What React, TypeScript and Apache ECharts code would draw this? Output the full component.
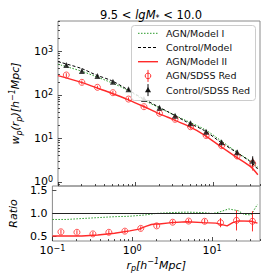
import React, { useEffect, useRef } from "react";
import * as echarts from "echarts";

// ---------------- data ----------------
const titleText = "9.5 < {it|lgM}{sub|*} < 10.0";
const legendLabels = ["AGN/Model I", "Control/Model", "AGN/Model II", "AGN/SDSS Red", "Control/SDSS Red"];

// measured points (h^-1 Mpc)
const rp = [0.128, 0.203, 0.322, 0.51, 0.81, 1.28, 2.03, 3.22, 5.1, 8.1, 12.8, 20.3, 32.2];
const wpAgnSdss = [286, 194, 149, 112, 80, 53.4, 37.7, 27.4, 18.5, 11.6, 6.77, 3.92, 2.66];
const wpCtrlSdss = [486, 354, 272, 201, 134, 80, 50.7, 33.2, 22.2, 14.2, 8.1, 4.77, 3.06];
const errAgnSdss = [0.1, 0.1, 0.09, 0.09, 0.09, 0.09, 0.09, 0.1, 0.1, 0.12, 0.13, 0.15, 0.32];
const errCtrlSdss = [0.07, 0.07, 0.07, 0.07, 0.07, 0.07, 0.07, 0.08, 0.08, 0.09, 0.1, 0.12, 0.26];

// model curves
const modelX = [0.1, 0.2, 0.31, 0.49, 0.78, 1.23, 1.95, 2.6, 4.5, 7.7, 12.2, 19.5, 30.5, 37.5];
const wpAgnModel1 = [505, 352, 262, 190, 129, 79, 51.7, 40.5, 25.4, 16.1, 9.16, 5.0, 2.95, 2.15];
const wpCtrlModel = [580, 405, 286, 212, 134, 83.4, 53.4, 41, 24, 15, 8.36, 4.85, 2.85, 1.95];
const wpAgnModel2 = [276, 194, 146, 109, 79, 55.4, 37.7, 30.5, 20, 11.9, 6.66, 3.75, 2.2, 1.45];

// ratio panel
const ratioSdss = [0.6, 0.59, 0.555, 0.59, 0.615, 0.675, 0.73, 0.81, 0.835, 0.83, 0.8, 0.85, 0.83];
const ratioSdssErr = [0.045, 0.045, 0.045, 0.045, 0.045, 0.045, 0.045, 0.045, 0.045, 0.05, 0.1, 0.22, 0.22];
const ratioLineX = [0.1, 0.234, 0.37, 0.6, 0.93, 1.22, 1.48, 1.74, 1.95, 2.19, 3.1, 4.84, 7.76, 11.2, 15.5, 18.2, 21.4, 30.9, 37.2];
const ratioModel2 = [0.51, 0.51, 0.53, 0.57, 0.62, 0.66, 0.72, 0.76, 0.77, 0.77, 0.8, 0.82, 0.8, 0.79, 0.73, 0.8, 0.84, 0.83, 0.79];
const ratioGreenX = [0.1, 0.15, 0.234, 0.37, 0.6, 0.93, 1.48, 1.95, 3.1, 4.84, 7.76, 10.2, 12.3, 16.2, 21.4, 25.1, 30.9, 37.2];
const ratioModel1 = [0.87, 0.87, 0.89, 0.91, 0.93, 0.94, 0.97, 1.0, 1.02, 1.03, 1.02, 1.0, 1.03, 1.1, 1.06, 0.98, 0.97, 1.2];

const xTickMajor = [-1, 0, 1];
const yTickMajor = [0, 1, 2, 3];
const ratioTicks = [0.5, 1.0, 1.5];

// axis ranges
const X_MIN = 0.1;
const X_MAX = 40;
const Y_MIN = 0.8;
const Y_MAX = 5000;
const R_MIN = 0.4;
const R_MAX = 1.6;

// ---------------- helpers ----------------
const L = Math.log10;
const FONT = "DejaVu Sans";
const RED = "#ff2a2a";
const GREEN = "#2a9a2a";

function minorTicks(lo: number, hi: number) {
  const out: number[] = [];
  for (let d = Math.floor(lo) - 1; d <= Math.ceil(hi); d++) {
    for (let k = 2; k <= 9; k++) {
      const v = d + Math.log10(k);
      if (v >= lo - 1e-9 && v <= hi + 1e-9) out.push(v);
    }
  }
  return out;
}

const toLog = (xs: number[], ys: number[]) => xs.map((x, i) => [L(x), L(ys[i])]);

const supRich = {
  sup: { fontSize: 8, verticalAlign: "top", lineHeight: 7, fontFamily: FONT, color: "#000" },
  sub: { fontSize: 8, verticalAlign: "bottom", lineHeight: 7, fontFamily: FONT, color: "#000" },
};
const itRich = {
  sup: { fontSize: 8, verticalAlign: "top", lineHeight: 8, fontFamily: FONT, fontStyle: "italic", color: "#000" },
  sub: { fontSize: 8, verticalAlign: "bottom", lineHeight: 8, fontFamily: FONT, fontStyle: "italic", color: "#000" },
};

function errBar(xi: number, yi: number, data: number[][], color: string) {
  return {
    type: "custom",
    xAxisIndex: xi,
    yAxisIndex: yi,
    data,
    encode: { x: 0, y: [1, 2] },
    z: 4,
    renderItem: (_p: any, api: any) => {
      const a = api.coord([api.value(0), api.value(1)]);
      const b = api.coord([api.value(0), api.value(2)]);
      return {
        type: "line",
        shape: { x1: a[0], y1: a[1], x2: b[0], y2: b[1] },
        style: { stroke: color, lineWidth: 1 },
      };
    },
  };
}

function baseAxis(extra: any) {
  return {
    type: "value",
    splitLine: { show: false },
    axisLine: { show: false, onZero: false },
    ...extra,
  };
}

function buildOption() {
  const xmin = L(X_MIN), xmax = L(X_MAX);
  const ymin = L(Y_MIN), ymax = L(Y_MAX);
  const tickStyle = { color: "#222", width: 0.8 };

  const xAxes = [
    baseAxis({ gridIndex: 0, min: xmin, max: xmax, position: "bottom",
      axisTick: { show: true, inside: true, length: 4, customValues: xTickMajor, lineStyle: tickStyle },
      axisLabel: { show: false } }),
    baseAxis({ gridIndex: 0, min: xmin, max: xmax, position: "bottom",
      axisTick: { show: true, inside: true, length: 2, customValues: minorTicks(xmin, xmax), lineStyle: tickStyle },
      axisLabel: { show: false } }),
    baseAxis({ gridIndex: 1, min: xmin, max: xmax, position: "bottom",
      axisTick: { show: true, inside: true, length: 4, customValues: xTickMajor, lineStyle: tickStyle },
      axisLabel: { show: true, customValues: xTickMajor, margin: 3,
        formatter: (v: number) => "10{sup|" + String(Math.round(v)).replace("-", "\u2212") + "}",
        fontSize: 11, fontFamily: FONT, color: "#000", lineHeight: 13, rich: supRich },
      name: "r{sub|p}[h{sup|\u22121}Mpc]", nameLocation: "middle", nameGap: 11,
      nameTextStyle: { fontSize: 11, fontStyle: "italic", fontFamily: FONT, color: "#000", lineHeight: 15, rich: itRich } }),
    baseAxis({ gridIndex: 1, min: xmin, max: xmax, position: "bottom",
      axisTick: { show: true, inside: true, length: 2, customValues: minorTicks(xmin, xmax), lineStyle: tickStyle },
      axisLabel: { show: false } }),
  ];

  const yAxes = [
    baseAxis({ gridIndex: 0, min: ymin, max: ymax, position: "left",
      axisTick: { show: true, inside: true, length: 4, customValues: yTickMajor, lineStyle: tickStyle },
      axisLabel: { show: true, customValues: yTickMajor, margin: 5,
        formatter: (v: number) => "10{sup|" + Math.round(v) + "}",
        fontSize: 11, fontFamily: FONT, color: "#000", lineHeight: 12, rich: supRich },
      name: "w{sub|p}(r{sub|p})[h{sup|\u22121}Mpc]", nameLocation: "middle", nameGap: 23,
      nameTextStyle: { fontSize: 11, fontStyle: "italic", fontFamily: FONT, color: "#000", lineHeight: 15, rich: itRich } }),
    baseAxis({ gridIndex: 0, min: ymin, max: ymax, position: "left",
      axisTick: { show: true, inside: true, length: 2, customValues: minorTicks(ymin, ymax), lineStyle: tickStyle },
      axisLabel: { show: false } }),
    baseAxis({ gridIndex: 1, min: R_MIN, max: R_MAX, position: "left",
      axisTick: { show: true, inside: true, length: 4, customValues: ratioTicks, lineStyle: tickStyle },
      axisLabel: { show: true, customValues: ratioTicks, margin: 5,
        formatter: (v: number) => v.toFixed(1),
        fontSize: 11, fontFamily: FONT, color: "#000", lineHeight: 11 },
      name: "Ratio", nameLocation: "middle", nameGap: 24,
      nameTextStyle: { fontSize: 11, fontStyle: "italic", fontFamily: FONT, color: "#000" } }),
  ];

  const redErrData = rp.map((x, i) => [L(x), L(wpAgnSdss[i] * (1 - errAgnSdss[i])), L(wpAgnSdss[i] * (1 + errAgnSdss[i]))]);
  const blkErrData = rp.map((x, i) => [L(x), L(wpCtrlSdss[i] * (1 - errCtrlSdss[i])), L(wpCtrlSdss[i] * (1 + errCtrlSdss[i]))]);
  const ratioErrData = rp.map((x, i) => [L(x), ratioSdss[i] - ratioSdssErr[i], ratioSdss[i] + ratioSdssErr[i]]);

  const series: any[] = [
    { type: "line", xAxisIndex: 0, yAxisIndex: 0, data: toLog(modelX, wpAgnModel1), symbol: "none", smooth: 0.3,
      lineStyle: { color: GREEN, width: 1, type: [1.5, 1.5] }, z: 3 },
    { type: "line", xAxisIndex: 0, yAxisIndex: 0, data: toLog(modelX, wpCtrlModel), symbol: "none", smooth: 0.3,
      lineStyle: { color: "#000", width: 1, type: [3, 2] }, z: 3 },
    { type: "line", xAxisIndex: 0, yAxisIndex: 0, data: toLog(modelX, wpAgnModel2), symbol: "none", smooth: 0.3,
      lineStyle: { color: RED, width: 1.4 }, z: 3 },
    errBar(0, 0, redErrData, RED),
    { type: "scatter", xAxisIndex: 0, yAxisIndex: 0, data: toLog(rp, wpAgnSdss), symbol: "circle", symbolSize: 6,
      itemStyle: { color: "rgba(0,0,0,0)", borderColor: RED, borderWidth: 1 }, z: 5 },
    errBar(0, 0, blkErrData, "#111"),
    { type: "scatter", xAxisIndex: 0, yAxisIndex: 0, data: toLog(rp, wpCtrlSdss), symbol: "triangle", symbolSize: 6,
      itemStyle: { color: "#111" }, z: 5 },
    // ratio panel
    { type: "line", xAxisIndex: 2, yAxisIndex: 2, data: ratioGreenX.map((x, i) => [L(x), ratioModel1[i]]), symbol: "none",
      lineStyle: { color: GREEN, width: 1, type: [1.5, 1.5] }, z: 3 },
    { type: "line", xAxisIndex: 2, yAxisIndex: 2, data: ratioLineX.map((x, i) => [L(x), ratioModel2[i]]), symbol: "none",
      lineStyle: { color: RED, width: 1.4 }, z: 3,
      markLine: { silent: true, symbol: "none", label: { show: false }, lineStyle: { color: "#222", width: 1, type: "solid" },
        data: [{ yAxis: 1 }] } },
    errBar(2, 2, ratioErrData, RED),
    { type: "scatter", xAxisIndex: 2, yAxisIndex: 2, data: rp.map((x, i) => [L(x), ratioSdss[i]]), symbol: "circle", symbolSize: 6,
      itemStyle: { color: "rgba(0,0,0,0)", borderColor: RED, borderWidth: 1 }, z: 5 },
  ];

  // legend
  const lx1 = 138, lx2 = 158, lxm = 148, ltx = 166, ly0 = 33.3, ldy = 14.2;
  const legendEls: any[] = [
    { type: "rect", shape: { x: 131.5, y: 25.5, width: 124, height: 75, r: 3 },
      style: { fill: "rgba(255,255,255,0.85)", stroke: "#cccccc", lineWidth: 1 }, z: 10 },
  ];
  legendLabels.forEach((lab, i) => {
    const y = ly0 + i * ldy;
    if (i === 0) legendEls.push({ type: "line", shape: { x1: lx1, y1: y, x2: lx2, y2: y }, style: { stroke: GREEN, lineWidth: 1, lineDash: [1.5, 1.5] }, z: 11 });
    if (i === 1) legendEls.push({ type: "line", shape: { x1: lx1, y1: y, x2: lx2, y2: y }, style: { stroke: "#000", lineWidth: 1, lineDash: [3, 2] }, z: 11 });
    if (i === 2) legendEls.push({ type: "line", shape: { x1: lx1, y1: y, x2: lx2, y2: y }, style: { stroke: RED, lineWidth: 1.4 }, z: 11 });
    if (i === 3) {
      legendEls.push({ type: "line", shape: { x1: lxm, y1: y - 6, x2: lxm, y2: y + 6 }, style: { stroke: RED, lineWidth: 1 }, z: 11 });
      legendEls.push({ type: "circle", shape: { cx: lxm, cy: y, r: 2.8 }, style: { fill: "none", stroke: RED, lineWidth: 1 }, z: 11 });
    }
    if (i === 4) {
      legendEls.push({ type: "line", shape: { x1: lxm, y1: y - 6, x2: lxm, y2: y + 6 }, style: { stroke: "#111", lineWidth: 1 }, z: 11 });
      legendEls.push({ type: "polygon", shape: { points: [[lxm, y - 3.2], [lxm - 3, y + 2.2], [lxm + 3, y + 2.2]] }, style: { fill: "#111" }, z: 11 });
    }
    legendEls.push({ type: "text", x: ltx, y, style: { text: lab, fontSize: 9.5, fontFamily: FONT, fill: "#111", align: "left", verticalAlign: "middle" }, z: 11 });
  });

  const graphic = [
    { type: "text", x: 151, y: 15, style: {
      text: titleText, fontSize: 11.5, fontFamily: FONT, fill: "#000", align: "center", verticalAlign: "middle", lineHeight: 15,
      rich: {
        it: { fontSize: 11.5, fontStyle: "italic", fontFamily: FONT, fill: "#000" },
        sub: { fontSize: 8, verticalAlign: "bottom", lineHeight: 8, fontFamily: FONT, fill: "#000" },
      } }, z: 10 },
    ...legendEls,
  ];

  return {
    animation: false,
    backgroundColor: "#fff",
    grid: [
      { left: 42, top: 21, width: 218, height: 165, show: true, borderColor: "#8a8a8a", borderWidth: 1, backgroundColor: "transparent", containLabel: false },
      { left: 42, top: 186, width: 218, height: 55, show: true, borderColor: "#8a8a8a", borderWidth: 1, backgroundColor: "transparent", containLabel: false },
    ],
    xAxis: xAxes,
    yAxis: yAxes,
    series,
    graphic,
  };
}

export default function App() {
  const ref = useRef<HTMLDivElement>(null);
  useEffect(() => {
    const chart = echarts.init(ref.current!, null, { renderer: "svg" });
    chart.setOption(buildOption() as any);
    return () => chart.dispose();
  }, []);
  return <div ref={ref} style={{ position: "fixed", left: 0, top: 0, width: 274, height: 274, background: "#fff" }} />;
}
